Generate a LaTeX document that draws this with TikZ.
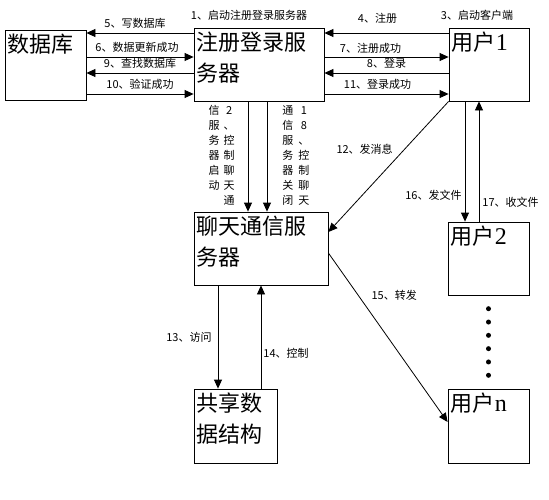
\documentclass[tikz,border=0pt]{standalone}
\usepackage{fontspec}
\setmainfont{Noto Sans CJK SC}
\newfontfamily\latserif{Liberation Serif}
\usepackage{tikz}
\usetikzlibrary{arrows.meta,positioning,calc}
\newcommand{\boxfont}{\fontsize{22}{31}\selectfont}
\newcommand{\lblfont}{\fontsize{11}{15}\selectfont}
\newcommand{\lat}[1]{{\latserif\fontsize{24}{31}\selectfont #1}}

\begin{document}
\begin{tikzpicture}[
    x=1pt, y=-1pt,
    box/.style={rectangle, draw, line width=0.8pt, inner sep=0pt},
    boxtext/.style={anchor=north west, align=left, font=\boxfont, inner xsep=3pt, inner ysep=4pt},
    lbl/.style={font=\lblfont, inner sep=1pt},
    arrow/.style={-{Triangle[length=9pt,width=8pt]}, line width=0.8pt}
]
\useasboundingbox (0,0) rectangle (549,499);

% Top Row: Database, Login Server, Client
\node[box, minimum width=81pt, minimum height=70pt, label={[boxtext]north west:数据库}] (db) at (45.5,65) {};
\node[box, minimum width=130pt, minimum height=73pt, label={[boxtext]north west:注册登录服\\务器}] (reg) at (259,64.5) {};
\node[box, minimum width=80pt, minimum height=73pt, label={[boxtext]north west:用户\lat{1}}] (user1) at (489,64.5) {};

% Middle Row: Chat Server, Client 2
\node[box, minimum width=134pt, minimum height=73pt, label={[boxtext]north west:聊天通信服\\务器}] (chat) at (261,248.5) {};
\node[box, minimum width=81pt, minimum height=73pt, label={[boxtext]north west:用户\lat{2}}] (user2) at (488.5,258.5) {};

% Bottom Row: Shared Data, Client n
\node[box, minimum width=83pt, minimum height=74pt, label={[boxtext]north west:共享数\\据结构}] (share) at (235.5,426) {};
\node[box, minimum width=81pt, minimum height=74pt, label={[boxtext]north west:用户\lat{n}}] (usern) at (488.5,426) {};

% Start-up steps
\node[lbl, above=6pt of reg.north, xshift=-10pt] (start1) {1、启动注册登录服务器};
\node[lbl, above=6pt of user1.north, xshift=-12pt] (start3) {3、启动客户端};

% Database traffic
\draw[arrow] (reg.west |- 0,33) -- node[lbl, above=3pt, xshift=-5pt] {5、写数据库} (db.east |- 0,33);
\draw[arrow] (db.east |- 0,57) -- node[lbl, above=3pt, xshift=-3pt] {6、数据更新成功} (reg.west |- 0,57);
\draw[arrow] (reg.west |- 0,73) -- node[lbl, above=3pt] {9、查找数据库} (db.east |- 0,73);
\draw[arrow] (db.east |- 0,94) -- node[lbl, above=3pt] {10、验证成功} (reg.west |- 0,94);

% Client login
\draw[arrow] (user1.west |- 0,33) -- node[lbl, above=8pt, xshift=-9pt] {4、注册} (reg.east |- 0,33);
\draw[arrow] (reg.east |- 0,57) -- node[lbl, above=2pt, xshift=-16pt] {7、注册成功} (user1.west |- 0,57);
\draw[arrow] (user1.west |- 0,73) -- node[lbl, above=3pt] {8、登录} (reg.east |- 0,73);
\draw[arrow] (reg.east |- 0,94) -- node[lbl, above=3pt, xshift=-9pt] {11、登录成功} (user1.west |- 0,94);

% Chat server control
\coordinate (ctl2) at ([xshift=-11pt]reg.south);
\coordinate (ctl18) at ([xshift=8pt]reg.south);
\draw[arrow] (ctl2) -- (ctl2 |- chat.north) node[lbl, midway, left=12pt]
    {\begin{tabular}{@{}c@{\hspace{4pt}}c@{}}信&2\\服&、\\务&控\\器&制\\启&聊\\动&天\\&通\end{tabular}};
\draw[arrow] (ctl18) -- (ctl18 |- chat.north) node[lbl, midway, right=14pt]
    {\begin{tabular}{@{}c@{\hspace{5pt}}c@{}}通&1\\信&8\\服&、\\务&控\\器&制\\关&聊\\闭&天\end{tabular}};

% Messages and files
\draw[arrow] (user1.south west) -- ([yshift=16.5pt]chat.east) node[lbl, pos=0.37, left=10pt] {12、发消息};
\coordinate (send16) at ([xshift=-24pt]user1.south);
\coordinate (recv17) at ([xshift=-10pt]user1.south);
\draw[arrow] (send16) -- (send16 |- user2.north) node[lbl, pos=0.78, left=2pt] {16、发文件};
\draw[arrow] (recv17 |- user2.north) -- (recv17) node[lbl, pos=0.16, right=2pt] {17、收文件};
\draw[arrow] ([yshift=-4.5pt]chat.east) -- ([yshift=4pt]usern.west) node[lbl, pos=0.25, right=12pt] {15、转发};

% Shared data access
\coordinate (acc13) at ([xshift=-43pt]chat.south);
\draw[arrow] (acc13) -- (acc13 |- share.north) node[lbl, midway, left=5pt] {13、访问};
\draw[arrow] (chat.south |- share.north) -- (chat.south) node[lbl, pos=0.34, right=1pt] {14、控制};

% More clients
\foreach \k in {1,...,6}
    \fill ($(user2.south)!\k/7!(usern.north)$) circle (2.5pt);

\end{tikzpicture}
\end{document}
